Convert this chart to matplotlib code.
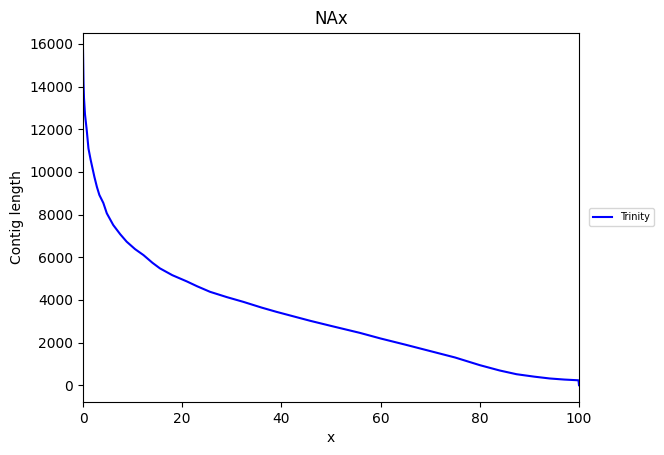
import matplotlib
matplotlib.use("Agg")
import matplotlib.pyplot as plt

# NAx curve
x_pct = [0, 0.1, 0.2, 0.4, 0.75, 1.1, 1.55, 2.3, 2.8, 3.3, 4.1, 4.8, 6.1, 7.5, 8.8,
         10.5, 12.2, 14.0, 15.5, 18.0, 20.9, 23.0, 25.6, 29.0, 32.3, 36.0, 39.0,
         45.8, 50.0, 55.8, 60.0, 65.0, 70.0, 75.0, 80.0, 84.0, 87.4, 91.0, 94.1,
         97.0, 99.9, 100.0]
contig_len = [15750, 14200, 13470, 12700, 11970, 11100, 10560, 9765, 9300, 8920, 8545,
              8060, 7510, 7080, 6730, 6380, 6100, 5740, 5480, 5160, 4870, 4640, 4380,
              4130, 3910, 3640, 3440, 3020, 2780, 2455, 2190, 1900, 1600, 1300, 940,
              690, 515, 400, 315, 265, 230, 0]
series_name = "Trinity"

fig = plt.figure(figsize=(6.64, 4.55), dpi=100)
ax = fig.add_axes([0.125, 0.1165, 0.747, 0.812])
ax.plot(x_pct, contig_len, color="blue", label=series_name)
ax.set_xlim(0, 100)
ax.set_title("NAx")
ax.set_xlabel("x")
ax.set_ylabel("Contig length")
ax.legend(loc="center left", bbox_to_anchor=(1.01, 0.5), fontsize=7)

fig.savefig("out.png", dpi=100)
